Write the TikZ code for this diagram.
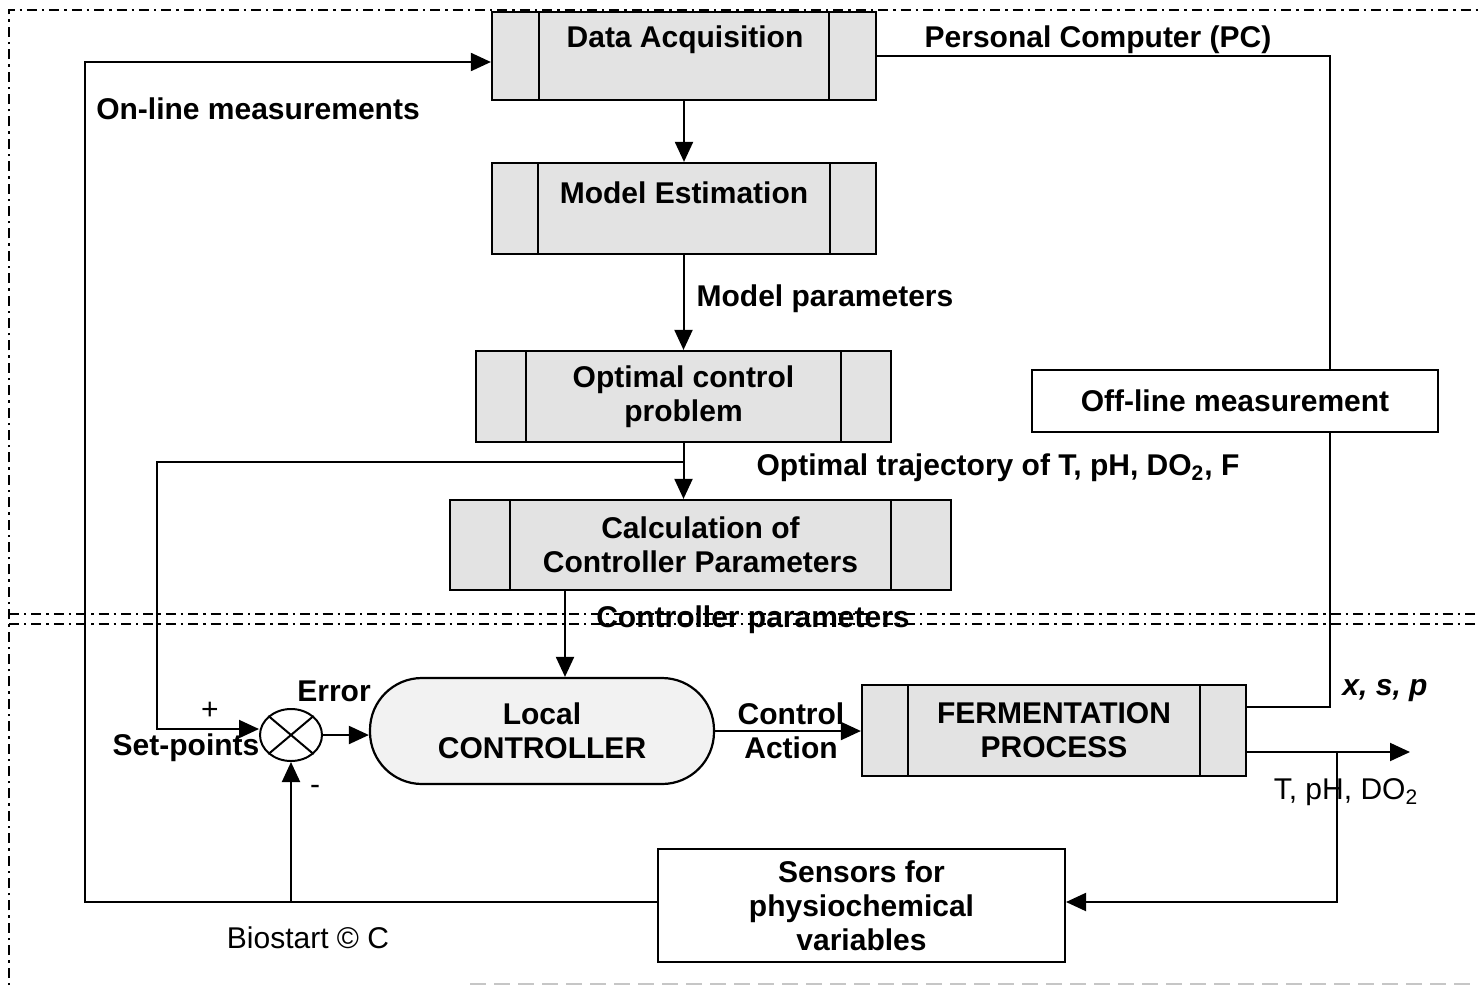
\documentclass[tikz,border=0pt]{standalone}
\usepackage{fontspec}
\setmainfont{Liberation Sans}
\usetikzlibrary{arrows.meta,shapes.geometric,backgrounds}
\begin{document}
\begin{tikzpicture}[x=0.5pt,y=-0.5pt,
  txt/.style={font=\bfseries\fontsize{15}{17}\selectfont, inner sep=0pt, align=center},
  thin txt/.style={font=\fontsize{15}{17}\selectfont, inner sep=0pt, align=center},
  pbox/.style={draw, line width=1.1pt, fill=gray!22, inner sep=0pt, align=center,
    font=\bfseries\fontsize{15}{17}\selectfont,
    path picture={
      \draw[line width=1.1pt] ([xshift=#1]path picture bounding box.north west) -- ([xshift=#1]path picture bounding box.south west);
      \draw[line width=1.1pt] ([xshift=-#1]path picture bounding box.north east) -- ([xshift=-#1]path picture bounding box.south east);}},
  plainbox/.style={draw, line width=1pt, fill=white, inner sep=0pt, align=center,
    font=\bfseries\fontsize{15}{17}\selectfont},
  wire/.style={line width=1pt},
  arr/.style={line width=1pt, -{Triangle[length=10pt,width=9pt]}},
  dashdot line/.style={line width=0.8pt, dash pattern=on 5pt off 2.5pt on 1.2pt off 2.5pt}
]
\useasboundingbox (0,0) rectangle (1478,986);

% frame of the PC part and the divider between PC and local level
\draw[dashdot line] (9,1000) -- (9,10) -- (1478,10);
\draw[dashdot line] (9,614) -- (1478,614);
\draw[dashdot line] (9,624) -- (1478,624);
\draw[gray!45, line width=0.6pt, dash pattern=on 8pt off 4pt] (470,984) -- (1478,984);

% blocks
\node[pbox=23.5pt, minimum width=192pt, minimum height=44pt] (da) at (684,56) {};
\node[txt] (dat) at (685,40) {Data Acquisition};
\node[pbox=23pt, minimum width=192pt, minimum height=45.5pt] (me) at (684,208.5) {};
\node[txt] (met) at (684,193) {Model Estimation};
\node[pbox=25pt, minimum width=207.5pt, minimum height=45.5pt] (ocp) at (683.5,396.5) {Optimal control\\problem};
\node[pbox=30pt, minimum width=250.5pt, minimum height=45pt] (calc) at (700.5,545) {Calculation of\\Controller Parameters};
\node[pbox=23pt, minimum width=192pt, minimum height=45.5pt] (ferm) at (1054,730.5) {FERMENTATION\\PROCESS};
\node[draw, line width=1.1pt, fill=gray!10, rounded corners=26pt, minimum width=172pt, minimum height=53pt,
      inner sep=0pt, align=center, font=\bfseries\fontsize{15}{17}\selectfont] (ctl) at (542,731) {Local\\CONTROLLER};
\node[draw, line width=1pt, ellipse, minimum width=31pt, minimum height=26pt, inner sep=0pt] (jn) at (291,735) {};
\draw[line width=1pt] (jn.north west) -- (jn.south east) (jn.north east) -- (jn.south west);
\node[plainbox, minimum width=203.5pt, minimum height=56.5pt] (sens) at (861.5,905.5) {Sensors for\\physiochemical\\variables};

% connectors (behind the blocks)
\coordinate (fbL) at (85,902);
\coordinate (spL) at (157,600);
\coordinate (br) at (683.5,462);
\coordinate (pcR) at (1330,300);
\coordinate (tapR) at (1337,752);
\coordinate (outR) at (1410,752);
\begin{scope}[on background layer]
\draw[arr] ([yshift=1.75pt]sens.west) -| (fbL) |- ([yshift=-3pt]da.west);
\draw[arr] (jn.south |- fbL) -- (jn.south);
\draw[arr] (da.south) -- (da.south |- me.north);
\draw[arr] (ocp.north |- me.south) -- (ocp.north);
\draw[wire] (ocp.south) -- (br);
\draw[arr] (br) -- (br |- calc.north);
\draw[arr] (br) -| (spL) |- ([yshift=3pt]jn.west);
\draw[arr] ([xshift=-67.75pt]calc.south) -- ([xshift=-67.75pt]calc.south |- ctl.north);
\draw[arr] (jn.east) -- (jn.east -| ctl.west);
\draw[arr] (ctl.east) -- (ctl.east -| ferm.west);
\draw[wire] ([yshift=11.75pt]ferm.east) -| (pcR) |- (da.east);
\draw[arr] ([yshift=-10.75pt]ferm.east) -- (outR);
\draw[arr] (tapR) |- ([yshift=1.75pt]sens.east);
\end{scope}
\node[plainbox, minimum width=203pt, minimum height=31pt] (off) at (1235,401) {Off-line measurement};

% labels
\node[txt] (pc) at (1098,40) {Personal Computer (PC)};
\node[txt] (onl) at (258,109) {On-line measurements};
\node[txt] (mp) at (825,299) {Model parameters};
\node[txt] (ot) at (998,468) {Optimal trajectory of T, pH, DO\textsubscript{2}, F};
\node[txt] (cp) at (753,620) {Controller parameters};
\node[thin txt] (plus) at (210,711) {+};
\node[thin txt] (minus) at (315,790) {-};
\node[txt] (sp) at (186,748) {Set-points};
\node[txt] (err) at (334,691) {Error};
\node[txt] (ca) at (791,731) {Control\\Action};
\node[txt, font=\bfseries\itshape\fontsize{15}{17}\selectfont] (xsp) at (1385,691) {x, s, p};
\node[thin txt] (tph) at (1346,792) {T, pH, DO\textsubscript{2}};
\node[thin txt] (bio) at (308,938) {Biostart \textcopyright{} C};
\end{tikzpicture}
\end{document}
